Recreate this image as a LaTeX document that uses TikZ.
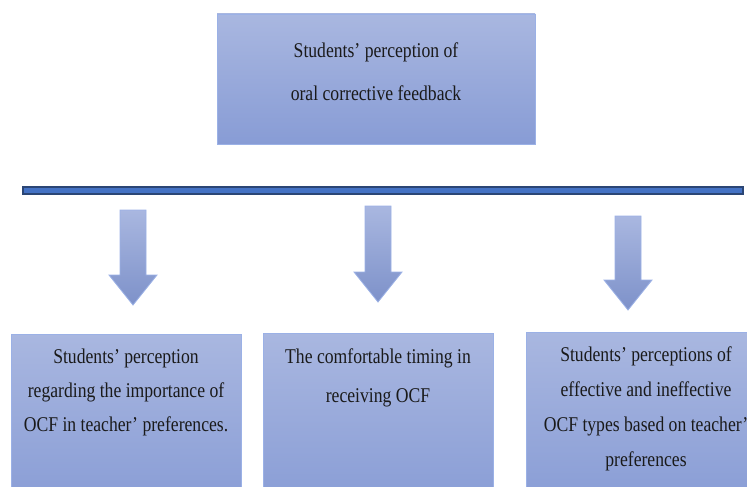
\documentclass[tikz,border=0pt]{standalone}
\usepackage{fontspec}
\setmainfont{Liberation Serif}[FakeStretch=0.84]
\usepackage{tikz}
\usetikzlibrary{positioning}

\definecolor{boxtop}{HTML}{A9B7E0}
\definecolor{boxbot}{HTML}{8499D4}
\definecolor{boxline}{HTML}{9BB1E6}
\definecolor{barfill}{HTML}{4472C4}
\definecolor{barline}{HTML}{2B4675}
\definecolor{ink}{HTML}{1A1A1A}

\tikzset{
  box/.style={rectangle, draw=boxline, line width=.8pt, top color=boxtop, bottom color=boxbot, inner sep=0pt},
  txt/.style={align=center, text=ink, inner sep=0pt, anchor=base, font=\fontsize{21}{35}\selectfont},
  downarrow/.style={draw=boxline, line width=.8pt, top color=boxtop, bottom color=boxbot!95!black}
}

\begin{document}
\begin{tikzpicture}[x=1pt,y=-1pt]
\useasboundingbox (0,0) rectangle (747,487);
\clip (0,0) rectangle (747,487);

\node[box, minimum width=318pt, minimum height=130pt, bottom color=boxbot!90!boxtop] (main) at (376,79) {};
\node[txt, font=\fontsize{21}{43}\selectfont] (mainlabel) at (376,100) {Students' perception of\\oral corrective feedback};

\draw[barline, line width=1.2pt, fill=barfill] (23,187) rectangle (743,194);

\foreach \x/\t/\e in {133/210/305, 378/206/302, 628/216/310}
  \shade[downarrow] (\x-13,\t) -- (\x+13,\t) -- (\x+13,\e-30) -- (\x+24,\e-30) -- (\x,\e)
    -- (\x-24,\e-30) -- (\x-13,\e-30) -- cycle;

\node[box, minimum width=230pt, minimum height=196pt] (importance) at (126,432) {};
\node[box, minimum width=230pt, minimum height=196pt] (timing) at (378,431) {};
\node[box, minimum width=240pt, minimum height=196pt] (types) at (646,430) {};

\node[txt, font=\fontsize{21}{34}\selectfont] (importancelabel) at (126,431) {Students' perception\\regarding the importance of\\OCF in teacher' preferences.};
\node[txt, font=\fontsize{21}{39}\selectfont] (timinglabel) at (378,402) {The comfortable timing in\\receiving OCF};
\node[txt] (typeslabel) at (646,466) {Students' perceptions of\\effective and ineffective\\OCF types based on teacher'\\preferences};
\end{tikzpicture}
\end{document}
